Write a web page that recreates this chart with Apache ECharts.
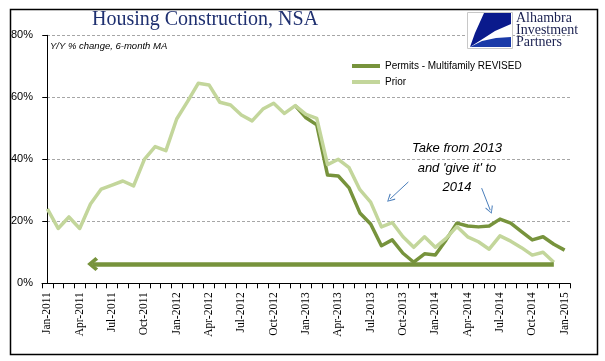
<!DOCTYPE html>
<html>
<head>
<meta charset="utf-8">
<script src="https://cdn.jsdelivr.net/npm/echarts@6/dist/echarts.min.js"></script>
<style>
html,body{margin:0;padding:0;background:#fff;}
#chart{width:605px;height:361px;}
</style>
</head>
<body>
<div id="chart"></div>
<script>
// ---- data ----
var months = ['Jan-2011','Feb-2011','Mar-2011','Apr-2011','May-2011','Jun-2011','Jul-2011','Aug-2011','Sep-2011','Oct-2011','Nov-2011','Dec-2011',
  'Jan-2012','Feb-2012','Mar-2012','Apr-2012','May-2012','Jun-2012','Jul-2012','Aug-2012','Sep-2012','Oct-2012','Nov-2012','Dec-2012',
  'Jan-2013','Feb-2013','Mar-2013','Apr-2013','May-2013','Jun-2013','Jul-2013','Aug-2013','Sep-2013','Oct-2013','Nov-2013','Dec-2013',
  'Jan-2014','Feb-2014','Mar-2014','Apr-2014','May-2014','Jun-2014','Jul-2014','Aug-2014','Sep-2014','Oct-2014','Nov-2014','Dec-2014',
  'Jan-2015'];
var prior = [24.0,17.7,21.4,17.7,25.6,30.4,31.7,33.0,31.4,40.0,44.1,42.8,
  53.0,58.6,64.5,64.0,58.4,57.5,54.3,52.4,56.2,58.1,54.8,57.3,
  54.5,53.2,38.3,40.0,37.3,30.2,26.2,18.2,19.6,15.0,11.6,15.0,
  11.6,14.5,18.3,15.0,13.4,11.0,15.3,13.6,11.5,9.1,10.0,6.8,null];
var revised = [null,null,null,null,null,null,null,null,null,null,null,null,
  null,null,null,null,null,null,null,null,null,null,null,57.3,
  53.4,51.1,34.9,34.6,30.8,22.7,19.1,12.1,14.0,9.7,6.8,9.5,
  9.1,14.0,19.4,18.5,18.2,18.5,20.7,19.4,16.7,14.0,15.0,12.6,10.7];
var yTicks = [0,20,40,60,80];
// annotation arrows, in month-index / percent units
var lowLevel = 6.2;
var bigArrowFrom = 47.0, bigArrowTo = 4.2;
var noteArrows = [[[33.5,32.7],[31.8,27.2]], [[40.3,30.7],[41.1,23.6]]];

var darkGreen = '#77933c', lightGreen = '#c3d69b', blue = '#4a7ebb', navy = '#1f3070';

var chart = echarts.init(document.getElementById('chart'), null, {renderer:'canvas'});
var chevron = 'path://M7,0 L14,8 L11.4,10.6 L7,5.2 L2.6,10.6 L0,8 Z';
var thinChevron = 'path://M5,0 L10,9 L9,10 L5,2.2 L1,10 L0,9 Z';

var option = {
  animation:false,
  backgroundColor:'#fff',
  grid:{left:42, right:35, top:35.3, bottom:77.7},
  legend:{
    orient:'vertical', left:347, top:56, itemWidth:28, itemHeight:4, itemGap:6,
    icon:'rect',
    data:['Permits - Multifamily REVISED','Prior'],
    textStyle:{fontFamily:'Liberation Sans', fontSize:10, color:'#000'}
  },
  xAxis:[{
    type:'category', data:months, boundaryGap:true,
    axisLine:{lineStyle:{color:'#000', width:1}},
    axisTick:{show:true, interval:0, length:5, lineStyle:{color:'#000'}},
    axisLabel:{interval:2, rotate:90, margin:9, fontFamily:'Liberation Serif', fontSize:11.5, color:'#000'},
    splitLine:{show:false}
  },{
    type:'value', min:-0.5, max:48.5, show:false
  }],
  yAxis:{
    type:'value', min:yTicks[0], max:yTicks[yTicks.length-1], interval:20,
    axisLine:{show:true, lineStyle:{color:'#000', width:1}},
    axisTick:{show:true, length:5, lineStyle:{color:'#000'}},
    axisLabel:{formatter:'{value}%', margin:9, fontFamily:'Liberation Sans', fontSize:11, color:'#000'},
    splitLine:{show:true, lineStyle:{color:'#a6a6a6', type:[3,2], width:1}}
  },
  series:[
    {name:'Permits - Multifamily REVISED', type:'line', data:revised, symbol:'none', z:2,
     itemStyle:{color:darkGreen}, lineStyle:{color:darkGreen, width:3.5, join:'round'}},
    {name:'Prior', type:'line', data:prior, symbol:'none', z:3,
     itemStyle:{color:lightGreen}, lineStyle:{color:lightGreen, width:3.5, join:'round'}},
    {name:'bigArrow', type:'line', xAxisIndex:1, data:[], z:4,
     markLine:{silent:true, animation:false, symbol:['none', chevron], symbolSize:[14,11],
       label:{show:false},
       lineStyle:{color:darkGreen, width:4.5, type:'solid'},
       data:[[{coord:[bigArrowFrom, lowLevel]},{coord:[bigArrowTo, lowLevel]}]]}},
    {name:'notes', type:'line', xAxisIndex:1, data:[], z:4,
     markLine:{silent:true, animation:false, symbol:['none', thinChevron], symbolSize:[8,8],
       label:{show:false},
       lineStyle:{color:blue, width:1, type:'solid'},
       data:noteArrows.map(function(a){return [{coord:a[0]},{coord:a[1]}];})}}
  ],
  graphic:[
    {type:'rect', left:8, top:7, shape:{width:587, height:345}, style:{fill:null, stroke:'#000', lineWidth:1.5}, silent:true, z:100},
    {type:'text', left:92, top:10, style:{text:'Housing Construction, NSA', fontFamily:'Liberation Serif', fontSize:20, fill:navy}},
    {type:'text', left:50, top:41, style:{text:'Y/Y % change, 6-month MA', fontFamily:'Liberation Sans', fontStyle:'italic', fontSize:9.5, fill:'#000'}},
    {type:'text', x:457, y:139, style:{text:"Take from 2013\nand 'give it' to\n2014", align:'center', verticalAlign:'top', lineHeight:19.5, fontFamily:'Liberation Sans', fontStyle:'italic', fontSize:13, fill:'#000'}},
    // logo
    {type:'rect', left:467, top:12, shape:{width:45, height:36}, style:{fill:'#fff', stroke:'#c8c8c8', lineWidth:1}, z:50},
    {type:'polygon', shape:{points:[[484,13],[511,13],[511,24],[495,31],[481,40],[470,47],[475,33]]}, style:{fill:'#0a1a8c'}, z:51},
    {type:'polygon', shape:{points:[[470,47],[482,41],[496,38],[511,37],[511,47]]}, style:{fill:'#1a3aa8'}, z:51},
    {type:'text', left:516, top:11, style:{text:'Alhambra', fontFamily:'Liberation Serif', fontSize:14, fill:'#1a2050'}, z:52},
    {type:'text', left:516, top:23, style:{text:'Investment', fontFamily:'Liberation Serif', fontSize:14, fill:'#1a2050'}, z:52},
    {type:'text', left:516, top:35, style:{text:'Partners', fontFamily:'Liberation Serif', fontSize:14, fill:'#1a2050'}, z:52}
  ]
};
chart.setOption(option);
</script>
</body>
</html>
